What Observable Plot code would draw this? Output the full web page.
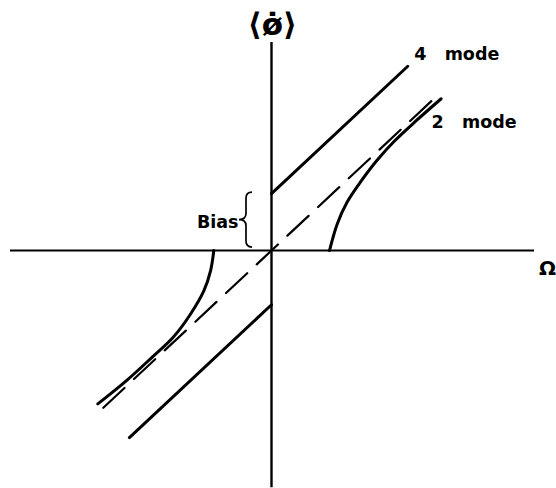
<!DOCTYPE html>
<html>
<head>
<meta charset="utf-8">
<script src="https://cdn.jsdelivr.net/npm/d3@7"></script>
<script src="https://cdn.jsdelivr.net/npm/@observablehq/plot@0.6"></script>
<style>
  html, body { margin: 0; padding: 0; background: #fff; }
  #chart svg { display: block; }
</style>
</head>
<body>
<div id="chart"></div>
<script>
// Mean beat-frequency output <phi-dot> versus rotation rate Omega.
// Each series is a list of [Omega, <phi-dot>] pairs.
const biasLevel = 2.1;
const fourModeUpper = [[0, 2.1], [4.7, 6.8]];
const fourModeLower = [[-4.9, -6.9], [0, -2.0]];
const idealResponse = [[-5.8, -5.8], [5.77, 5.77]];
const twoModeUpper = [
  [2.0, 0], [2.27, 0.99], [2.61, 1.79], [3.07, 2.53], [3.64, 3.33],
  [4.25, 4.05], [4.98, 4.78], [5.85, 5.6]
];
const twoModeLower = [
  [-1.99, 0], [-2.10, -0.74], [-2.33, -1.48], [-2.79, -2.34], [-3.39, -3.20],
  [-4.12, -3.94], [-5.0, -4.8], [-5.99, -5.66]
];
const axisNames = ["\u27E8\u00F8\u0307\u27E9", "\u03A9"];
const modeNames = ["4\u00A0\u00A0\u00A0mode", "2\u00A0\u00A0\u00A0mode"];
const biasName = ["Bias"];

const font = "DejaVu Sans, sans-serif";
const ink = "#000";

// Curly brace spanning the bias offset, left of the vertical axis
function biasBrace(index, scales) {
  const x0 = scales.x(0);
  const yTop = scales.y(biasLevel) - 1;
  const yBot = scales.y(0) - 3;
  const mid = (yTop + yBot) / 2;
  const xr = x0 - 19, xm = x0 - 25, xl = x0 - 32, q = 6;
  const d = `M${xr},${yTop} Q${xm},${yTop} ${xm},${yTop + q} L${xm},${mid - q}
    Q${xm},${mid} ${xl},${mid} Q${xm},${mid} ${xm},${mid + q}
    L${xm},${yBot - q} Q${xm},${yBot} ${xr},${yBot}`;
  return d3.create("svg:path")
    .attr("d", d)
    .attr("fill", "none")
    .attr("stroke", ink)
    .attr("stroke-width", 1.7)
    .node();
}

const chart = Plot.plot({
  width: 556,
  height: 488,
  margin: 0,
  x: {domain: [-9.345, 9.828], axis: null},
  y: {domain: [-8.78, 9.225], axis: null},
  style: {background: "#fff"},
  marks: [
    // axes
    Plot.ruleY([0], {x1: -9.0, x2: 9.07, stroke: ink, strokeWidth: 2}),
    Plot.ruleX([0], {y1: -8.75, y2: 7.68, stroke: ink, strokeWidth: 2.4}),
    // ideal (unbiased, lock-in free) response
    Plot.line(idealResponse, {x: d => d[0], y: d => d[1], stroke: ink, strokeWidth: 2.2, strokeDasharray: "29,13"}),
    // four-mode response: biased straight lines
    Plot.line(fourModeUpper, {x: d => d[0], y: d => d[1], stroke: ink, strokeWidth: 3}),
    Plot.line(fourModeLower, {x: d => d[0], y: d => d[1], stroke: ink, strokeWidth: 3}),
    // two-mode response with lock-in
    Plot.line(twoModeUpper, {x: d => d[0], y: d => d[1], stroke: ink, strokeWidth: 3, curve: "catmull-rom"}),
    Plot.line(twoModeLower, {x: d => d[0], y: d => d[1], stroke: ink, strokeWidth: 3, curve: "catmull-rom"}),
    biasBrace,
    // labels
    Plot.text([axisNames[0]], {x: 0.03, y: 8.3, text: d => d, fontSize: 31, fontFamily: font, fontWeight: "bold", fill: ink}),
    Plot.text([axisNames[1]], {x: 9.52, y: -0.66, text: d => d, fontSize: 20, fontFamily: font, fontWeight: "bold", fill: ink}),
    Plot.text([modeNames[0]], {x: 4.92, y: 7.25, text: d => d, textAnchor: "start", fontSize: 17.5, fontFamily: font, fontWeight: "bold", fill: ink}),
    Plot.text([modeNames[1]], {x: 5.52, y: 4.74, text: d => d, textAnchor: "start", fontSize: 17.5, fontFamily: font, fontWeight: "bold", fill: ink}),
    Plot.text(biasName, {x: -1.14, y: 1.05, text: d => d, textAnchor: "end", fontSize: 17.5, fontFamily: font, fontWeight: "bold", fill: ink})
  ]
});
document.getElementById("chart").append(chart);
</script>
</body>
</html>
